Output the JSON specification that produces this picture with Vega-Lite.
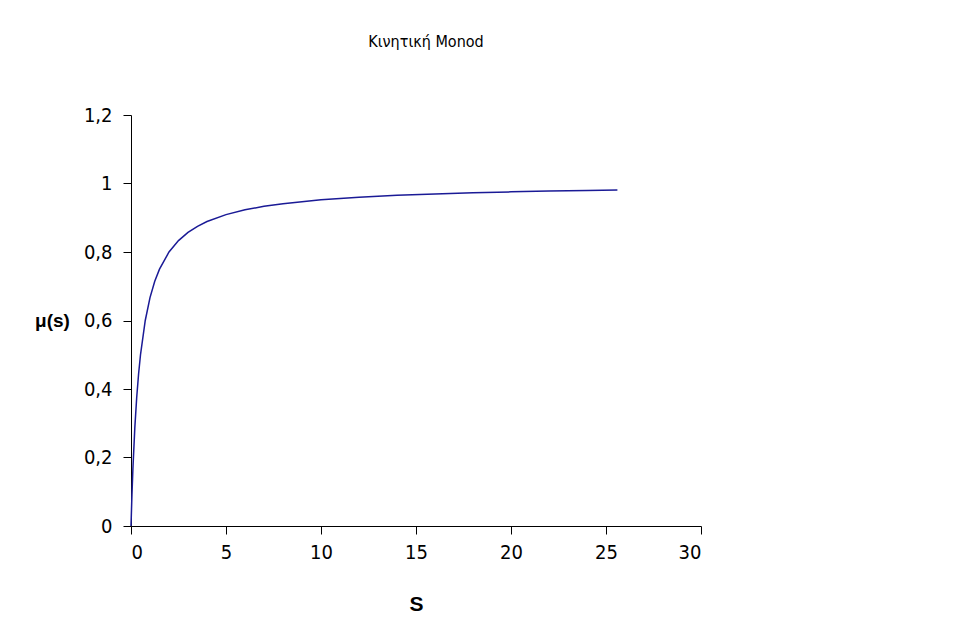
{
  "$schema": "https://vega.github.io/schema/vega-lite/v6.json",
  "width": 570,
  "height": 411,
  "autosize": {"type": "none"},
  "padding": {"left": 131, "top": 115, "right": 262, "bottom": 118},
  "background": "white",
  "config": {
    "view": {"stroke": null},
    "font": "'DejaVu Sans Condensed', 'Liberation Sans', sans-serif"
  },
  "title": {
    "text": "Κινητική Monod",
    "anchor": "middle",
    "frame": "group",
    "baseline": "bottom",
    "offset": 39,
    "dx": 10,
    "fontSize": 16,
    "fontWeight": "normal",
    "font": "'DejaVu Sans Condensed', 'Liberation Sans', sans-serif",
    "color": "#000000"
  },
  "data": {
    "values": [
      {"s": 0, "mu": 0},
      {"s": 0.05, "mu": 0.0909},
      {"s": 0.1, "mu": 0.1667},
      {"s": 0.2, "mu": 0.2857},
      {"s": 0.3, "mu": 0.375},
      {"s": 0.4, "mu": 0.4444},
      {"s": 0.5, "mu": 0.5},
      {"s": 0.75, "mu": 0.6},
      {"s": 1, "mu": 0.6667},
      {"s": 1.25, "mu": 0.7143},
      {"s": 1.5, "mu": 0.75},
      {"s": 2, "mu": 0.8},
      {"s": 2.5, "mu": 0.8333},
      {"s": 3, "mu": 0.8571},
      {"s": 3.5, "mu": 0.875},
      {"s": 4, "mu": 0.8889},
      {"s": 5, "mu": 0.9091},
      {"s": 6, "mu": 0.9231},
      {"s": 7, "mu": 0.9333},
      {"s": 8, "mu": 0.9412},
      {"s": 10, "mu": 0.9524},
      {"s": 12, "mu": 0.96},
      {"s": 14, "mu": 0.9655},
      {"s": 16, "mu": 0.9697},
      {"s": 18, "mu": 0.973},
      {"s": 20, "mu": 0.9756},
      {"s": 22, "mu": 0.9778},
      {"s": 24, "mu": 0.9796},
      {"s": 25.6, "mu": 0.9808}
    ]
  },
  "mark": {"type": "line", "color": "#1a1a96", "strokeWidth": 1.5, "interpolate": "linear"},
  "encoding": {
    "x": {
      "field": "s",
      "type": "quantitative",
      "scale": {"domain": [0, 30], "nice": false, "zero": true},
      "axis": {
        "title": "S",
        "values": [0, 5, 10, 15, 20, 25, 30],
        "grid": false,
        "domainColor": "#000000",
        "tickColor": "#000000",
        "tickSize": 8,
        "labelFontSize": 20,
        "labelColor": "#000000",
        "labelPadding": 8,
        "labelFont": "'DejaVu Sans Condensed', 'Liberation Sans', sans-serif",
        "titleFont": "Liberation Sans",
        "titleFontSize": 21,
        "titleFontWeight": "bold",
        "titleColor": "#000000",
        "titlePadding": 31
      }
    },
    "y": {
      "field": "mu",
      "type": "quantitative",
      "scale": {"domain": [0, 1.2], "nice": false},
      "axis": {
        "title": "μ(s)",
        "values": [0, 0.2, 0.4, 0.6, 0.8, 1, 1.2],
        "format": ",.2~f",
        "labelExpr": "replace(datum.label, '.', ',')",
        "grid": false,
        "domainColor": "#000000",
        "tickColor": "#000000",
        "tickSize": 8,
        "labelFontSize": 20,
        "labelColor": "#000000",
        "labelPadding": 11,
        "labelFont": "'DejaVu Sans Condensed', 'Liberation Sans', sans-serif",
        "titleFont": "Liberation Sans",
        "titleFontSize": 19,
        "titleFontWeight": "bold",
        "titleColor": "#000000",
        "titleAngle": 0,
        "titleX": -79,
        "titleY": 205,
        "titleAlign": "center",
        "titleBaseline": "middle"
      }
    }
  }
}
